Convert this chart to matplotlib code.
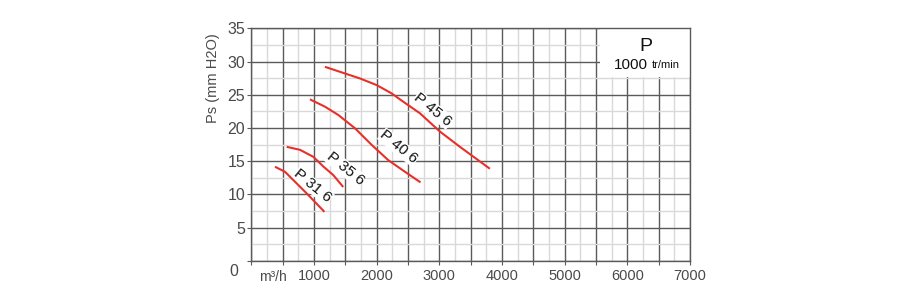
import numpy as np
import matplotlib.pyplot as plt
import matplotlib.transforms as mtransforms
from matplotlib.ticker import MultipleLocator

plt.rcParams['font.family'] = ['Liberation Sans', 'DejaVu Sans']

# curve data (flow m3/h, static pressure mm H2O)
p45_q = [1175, 1494, 1734, 2000, 2239, 2424, 2691, 3010, 3329, 3807]
p45_ps = [29.2, 28.2, 27.45, 26.45, 25.2, 23.95, 22.2, 19.45, 17.15, 13.85]

p40_q = [936, 1175, 1388, 1654, 1920, 2185, 2451, 2700]
p40_ps = [24.3, 23.2, 21.95, 19.95, 17.45, 15.15, 13.4, 11.8]

p35_q = [565, 777, 989, 1148, 1308, 1467]
p35_ps = [17.15, 16.7, 15.65, 14.2, 12.9, 11.1]

p31_q = [378, 537, 697, 883, 1148, 1165]
p31_ps = [14.15, 13.4, 11.9, 10.15, 7.55, 7.35]

curve_labels = ['P 45 6', 'P 40 6', 'P 35 6', 'P 31 6']
label_pos = [(2900, 22.7), (2355, 17.1), (1500, 13.9), (980, 11.25)]

x_ticks = [1000, 2000, 3000, 4000, 5000, 6000, 7000]
y_ticks = [0, 5, 10, 15, 20, 25, 30, 35]

red = '#e8302a'
txt = '#4a4a4a'

fig = plt.figure(figsize=(9, 3.06), dpi=100)
ax = fig.add_axes([0.2792, 0.148, 0.4875, 0.7595])
ax.set_xlim(0, 7000)
ax.set_ylim(0, 35)

# grid
ax.xaxis.set_major_locator(MultipleLocator(500))
ax.xaxis.set_minor_locator(MultipleLocator(250))
ax.yaxis.set_major_locator(MultipleLocator(5))
ax.yaxis.set_minor_locator(MultipleLocator(2.5))
ax.grid(which='minor', color='#d9d9d9', linewidth=1.0)
ax.grid(which='major', color='#5a5a5a', linewidth=1.0)
ax.set_axisbelow(True)
for s in ax.spines.values():
    s.set_color('#5a5a5a')
    s.set_linewidth(1.0)

# tick labels
ax.set_xticklabels([])
ax.tick_params(which='minor', length=0)
ax.tick_params(which='major', length=3, color='#5a5a5a', labelsize=11.5,
               labelcolor=txt, pad=1.5)
ax.set_yticks(y_ticks)
ax.set_yticklabels([str(v) for v in y_ticks])
zero_lbl = ax.get_yticklabels()[0]
off = mtransforms.ScaledTranslation(-5 / 72, -7 / 72, fig.dpi_scale_trans)
zero_lbl.set_transform(zero_lbl.get_transform() + off)

for v in x_ticks:
    ax.annotate(str(v), (v, 0), xytext=(0, -6), textcoords='offset points',
                ha='center', va='top', fontsize=10.5, color=txt,
                annotation_clip=False)
ax.annotate('m³/h', (350, 0), xytext=(0, -7), textcoords='offset points',
            ha='center', va='top', fontsize=10, color=txt,
            annotation_clip=False)

fig.text(0.2367, 0.745, 'Ps (mm H2O)', rotation=90, ha='center', va='center',
         fontsize=10.5, color=txt)

# curves
for q, ps in [(p45_q, p45_ps), (p40_q, p40_ps), (p35_q, p35_ps), (p31_q, p31_ps)]:
    ax.plot(q, ps, color=red, linewidth=1.5, solid_capstyle='butt', zorder=3)

for lbl, (x, y) in zip(curve_labels, label_pos):
    ax.text(x, y, lbl, rotation=-39, rotation_mode='anchor', ha='center',
            va='center', fontsize=11, color='#111111', zorder=2.8,
            bbox=dict(facecolor='white', edgecolor='none', pad=0.3))

# speed box
ax.fill_between([5561, 6995], 27.7, 34.95, color='white', zorder=2, linewidth=0)
ax.text(6290, 32.3, 'P', ha='center', va='center', fontsize=14, color='#111111', zorder=4)
ax.text(6056, 29.5, '1000', ha='center', va='center', fontsize=11, color='#111111', zorder=4)
ax.text(6610, 29.5, 'tr/min', ha='center', va='center', fontsize=8, color='#111111', zorder=4)

fig.savefig('out.png', dpi=100, facecolor='white')
